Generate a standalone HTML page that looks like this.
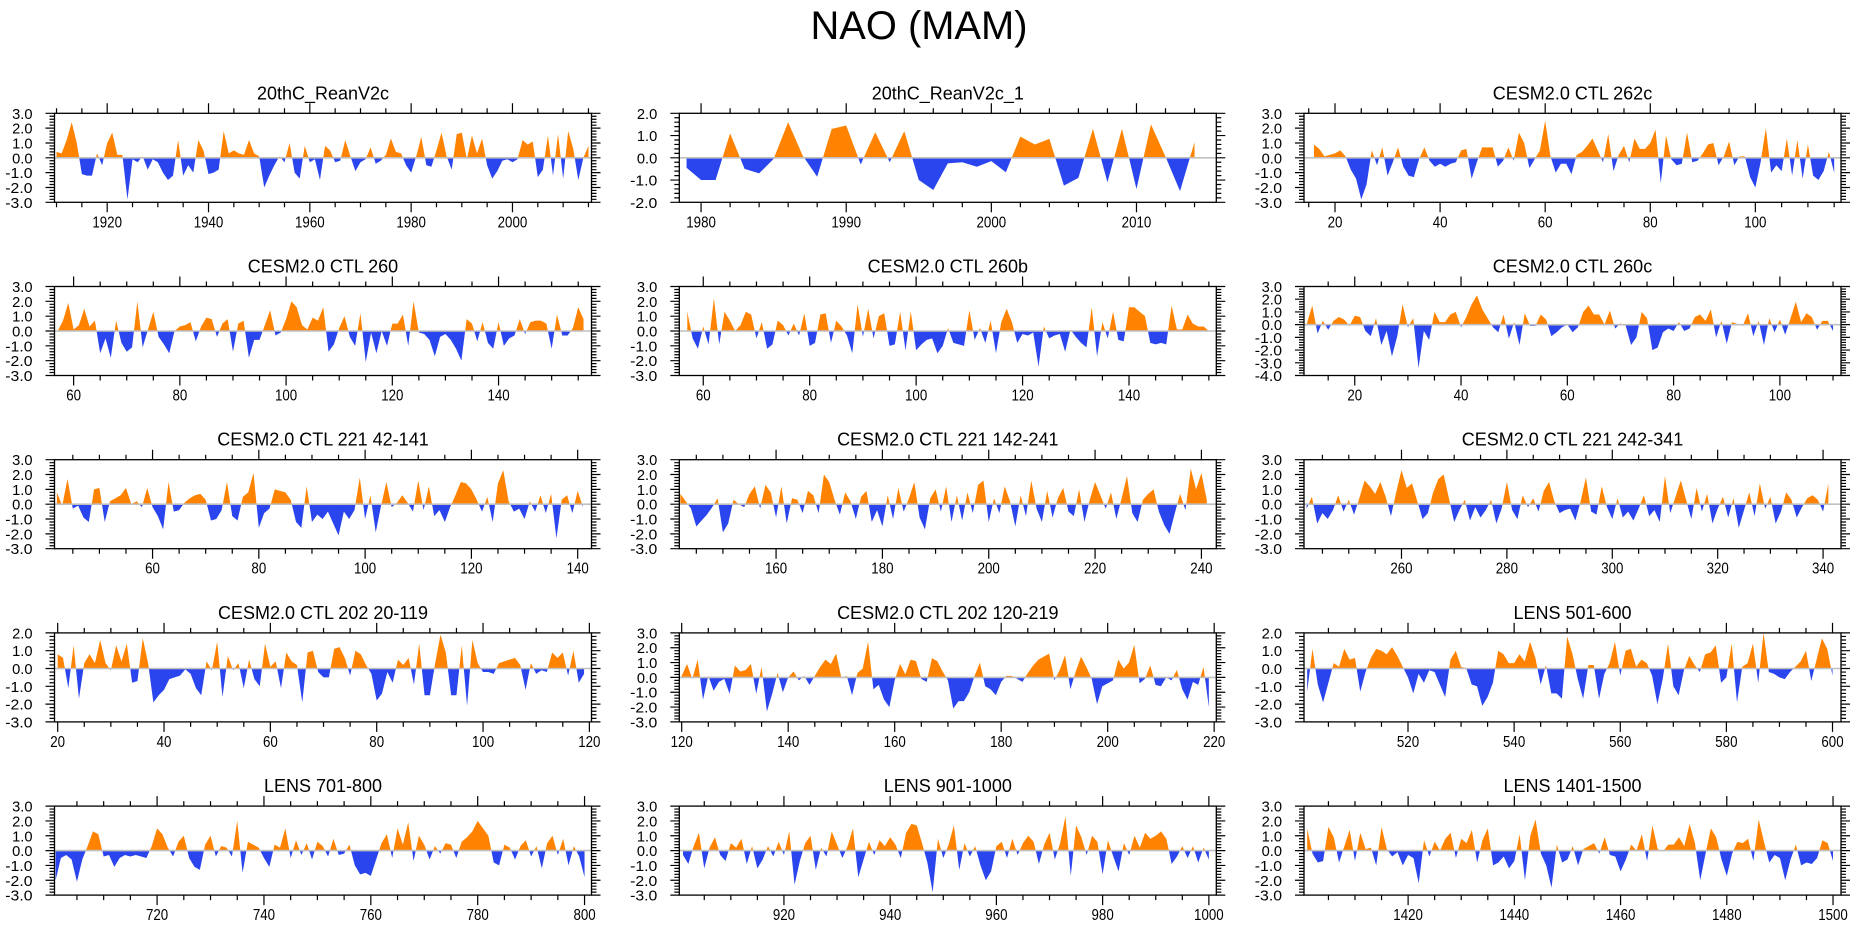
<!DOCTYPE html>
<html><head><meta charset="utf-8"><title>NAO (MAM)</title>
<style>html,body{margin:0;padding:0;background:#fff;}svg{display:block;}</style></head>
<body>
<svg id="chart" xmlns="http://www.w3.org/2000/svg" width="1861" height="936" viewBox="0 0 1861 936">
<rect x="0" y="0" width="1861" height="936" fill="#fff"/>
<text x="919" y="39" text-anchor="middle" font-family="Liberation Sans, sans-serif" font-size="40" textLength="217" lengthAdjust="spacingAndGlyphs">NAO (MAM)</text>
</svg>
<script>
const titles = ["20thC_ReanV2c","20thC_ReanV2c_1","CESM2.0 CTL 262c","CESM2.0 CTL 260","CESM2.0 CTL 260b","CESM2.0 CTL 260c","CESM2.0 CTL 221 42-141","CESM2.0 CTL 221 142-241","CESM2.0 CTL 221 242-341","CESM2.0 CTL 202 20-119","CESM2.0 CTL 202 120-219","LENS 501-600","LENS 701-800","LENS 901-1000","LENS 1401-1500"];
const startYears = [1910,1979,16,57,57,11,42,142,242,20,120,501,701,901,1401];
const xMin = [1909.6,1978.5,14.1,56.4,55.5,10.45,41.55,141.8,241.5,19.4,119.55,500.4,700.8,900.3,1400.4];
const xMax = [2015.6,2015.5,116.3,157.5,156.4,111.5,142.6,242.8,343.4,120.4,220.4,601.6,801.3,1001.4,1501.5];
const yTop = [3,2,3,3,3,3,3,3,3,2,3,2,3,3,3];
const yBot = [-3,-2,-3,-3,-3,-4,-3,-3,-3,-3,-3,-3,-3,-3,-3];
const majorStep = [20,10,20,20,20,20,20,20,20,20,20,20,20,20,20];
const minorStep = [5,2,5,5,5,5,5,5,5,5,5,5,5,5,5];

const s1 = [0.4,0.3,1.2,2.4,1.0,-1.1,-1.2,-1.2,0.3,-0.5,1.0,1.7,0.2,0.2,-2.8,-0.1,-0.3,0.1,-0.8,-0.1,-0.3,-1.0,-1.5,-1.2,1.2,-1.2,-0.5,-1.0,1.2,0.5,-1.1,-1.0,-0.8,1.8,0.3,0.5,0.3,0.2,1.2,0.3,0.1,-2.0,-1.2,-0.5,0.1,-0.3,1.0,-1.0,-1.4,0.8,-0.3,-0.1,-1.5,0.8,0.5,-0.3,-0.2,1.2,0.1,-0.9,-0.3,-0.1,0.7,-0.4,-0.2,0.2,1.3,0.4,0.3,-0.5,-1.0,0.1,1.4,-0.5,-0.6,0.5,1.7,0.1,-0.8,1.6,1.7,-0.1,1.5,0.3,1.3,-0.5,-1.4,-0.9,-0.2,-0.1,-0.3,-0.1,1.2,0.9,1.1,-1.3,-0.8,1.5,-1.2,1.6,-1.4,1.8,0.6,-1.5,0.0,0.8];
const s2 = [-0.45,-1.0,-1.0,1.1,-0.5,-0.7,-0.05,1.6,0.1,-0.85,1.3,1.45,-0.3,1.15,-0.2,1.2,-1.0,-1.45,-0.25,-0.2,-0.4,-0.15,-0.65,0.95,0.6,0.85,-1.25,-0.9,1.3,-1.1,1.3,-1.4,1.5,0.05,-1.5,0.7];
const s3 = [0.9,0.6,0.1,0.2,0.3,0.5,0.1,-0.8,-1.4,-2.8,-1.8,0.5,-0.5,0.7,-1.2,-0.3,0.7,-0.6,-1.2,-1.3,-0.1,0.7,-0.2,-0.6,-0.4,-0.6,-0.4,-0.3,0.5,0.6,-1.4,-0.3,0.7,0.7,0.7,-0.6,-0.2,0.7,-0.2,1.7,1.0,-0.7,-0.1,0.5,2.5,0.1,-1.0,-0.4,-0.4,-1.1,0.2,0.4,0.8,1.3,0.5,-0.3,1.6,-0.9,0.2,0.8,-0.3,1.3,0.6,0.6,1.0,1.9,-1.7,1.5,-0.1,-0.5,-0.4,1.7,-0.3,-0.2,0.3,0.9,1.0,-0.5,0.1,1.1,-0.5,0.1,0.1,-1.3,-2.0,-0.3,2.0,-1.0,-0.5,-0.9,1.3,-1.2,1.2,-1.4,0.9,-1.2,-1.5,-0.9,0.4,-1.0];
const s4 = [0.0,0.7,1.9,0.1,0.4,1.5,0.3,0.7,-1.5,-0.5,-1.8,0.7,-0.8,-1.4,-1.1,2.0,-1.1,0.1,1.3,-0.4,-0.9,-1.5,0.0,0.3,0.4,0.6,-0.7,0.3,0.9,0.8,-0.4,0.5,0.8,-1.4,0.5,0.7,-1.8,-0.6,-0.6,0.4,1.4,-0.3,-0.1,0.8,2.0,1.6,0.4,0.1,0.9,0.7,1.6,-1.4,-0.9,0.2,1.0,-0.4,-1.0,1.2,-2.1,-0.1,-1.5,0.0,-1.0,0.5,0.5,1.1,-1.0,2.0,-0.1,-0.2,-0.6,-1.7,-0.4,-0.2,-0.6,-1.2,-2.0,0.8,0.5,-0.7,0.6,-0.8,-1.2,0.6,-1.0,-0.5,-0.3,0.8,-0.2,0.6,0.7,0.7,0.5,-1.2,1.1,-0.3,-0.3,0.2,1.6,0.8];
const s5 = [1.3,-0.5,-1.2,0.3,-0.9,2.2,-0.9,1.3,0.7,0.0,0.4,1.3,1.1,-0.5,0.6,-1.2,-0.9,0.7,0.4,-0.3,0.5,-0.3,1.2,-1.0,-0.8,1.1,1.2,-0.8,0.7,0.3,-0.3,-1.5,1.8,-0.4,1.5,-0.5,1.0,1.2,-1.0,-0.9,1.3,-1.3,1.3,-1.3,-0.9,-0.6,-0.5,-1.5,-1.0,0.2,-0.8,-0.9,-1.0,1.4,-0.6,0.2,-0.8,0.7,-1.5,0.6,1.5,0.6,-0.8,-0.2,-0.3,-0.1,-2.4,0.3,-0.5,-0.3,-0.2,-1.4,0.1,-0.4,-0.8,-1.1,1.6,-1.7,0.6,-0.5,1.3,-0.6,-0.7,1.6,1.6,1.3,1.0,-0.8,-0.9,-0.8,-0.9,1.7,0.1,0.1,1.1,0.5,0.3,0.3,0.0];
const s6 = [0.1,1.5,-0.7,0.3,-0.4,0.3,0.6,0.4,-0.1,0.7,0.6,-0.5,-0.9,0.5,-1.6,-0.5,-2.5,-0.9,1.6,-0.2,0.5,-3.4,-0.5,-1.2,1.0,0.2,0.2,0.8,1.0,-0.2,0.6,1.6,2.3,1.2,0.5,-0.2,-0.6,0.8,-1.1,0.2,-1.6,0.9,-0.1,-0.1,0.8,0.4,-0.9,-0.6,-0.2,0.0,-0.6,-0.2,1.0,1.5,0.8,0.8,0.0,1.1,-0.3,0.1,-0.1,-1.6,-1.0,1.0,0.5,-2.0,-1.8,-0.6,-0.3,-0.5,0.2,-0.5,-0.3,0.6,0.8,0.3,1.2,-1.0,0.3,-1.5,0.2,0.05,-0.1,0.9,-0.9,0.3,-1.6,0.5,-0.6,0.4,-0.8,0.5,1.8,0.2,0.9,0.6,-0.4,0.3,0.3,-0.5];
const s7 = [0.8,-0.1,1.7,-0.3,-0.1,-0.9,-1.2,1.0,1.1,-1.2,0.2,0.4,0.6,1.1,0.0,0.2,-0.2,1.1,-0.2,-0.8,-1.7,1.5,-0.5,-0.4,0.1,0.4,0.6,0.7,0.3,-1.1,-1.0,-0.4,1.5,-0.8,-1.1,0.5,0.8,2.1,-1.6,-0.6,-0.3,1.0,0.9,0.8,0.3,-1.2,-1.6,1.2,-1.2,-0.7,-1.0,-0.5,-1.3,-2.1,-0.5,-1.0,-0.4,1.8,-1.0,0.6,-1.9,-0.1,1.5,-0.2,0.1,0.6,0.1,-0.5,1.6,-0.4,1.2,-0.8,-0.4,-1.2,-0.2,0.6,1.5,1.4,1.0,0.3,-0.5,0.5,-1.2,1.4,2.3,0.2,-0.5,-0.3,-1.0,0.2,-0.5,0.6,-0.6,0.7,-2.3,0.3,0.6,-0.6,0.9,-0.2];
const s8 = [0.7,0.2,-0.3,-1.5,-1.1,-0.7,-0.2,0.4,-1.9,-1.3,0.3,0.0,-0.2,0.7,1.2,-0.3,1.3,0.8,-0.9,1.2,-1.3,0.4,0.3,-0.6,0.9,0.6,-0.6,2.0,1.5,0.3,-0.7,0.8,0.2,-1.0,0.5,0.9,-1.2,-0.4,-1.5,0.6,-1.0,1.1,-0.5,0.4,1.5,-0.9,-1.7,0.4,1.0,-0.5,1.2,-1.2,0.6,-1.1,0.8,-0.6,1.3,1.6,-1.2,0.4,-0.6,1.2,0.2,-1.5,0.6,-0.8,1.6,-0.3,-1.2,0.9,-0.9,0.4,1.1,-0.5,-0.8,1.0,-1.2,0.3,1.5,0.6,-0.3,0.8,-1.0,0.4,1.9,-0.6,-1.2,0.3,0.7,1.0,-0.5,-1.4,-2.0,-0.6,0.7,-0.4,2.4,1.0,2.1,0.3];
const s9 = [-0.3,0.5,-1.3,-0.6,-1.0,-0.4,0.6,-0.5,0.3,-0.7,0.4,1.6,1.2,0.7,1.5,0.5,-0.8,0.8,2.3,1.1,1.4,0.2,-1.0,-0.6,0.8,1.7,2.0,0.4,-1.2,-0.4,0.3,-1.1,-0.2,-0.9,-0.4,0.3,-1.3,-0.3,1.5,-0.4,-1.0,0.6,-0.2,0.4,-0.5,0.9,1.5,0.2,-0.6,-0.4,-0.3,-1.1,0.2,1.8,-0.5,-0.7,1.2,-0.2,-1.0,0.4,-0.9,-0.5,-1.1,-0.3,0.6,-0.8,-0.4,-1.2,1.9,-0.6,0.5,1.6,0.3,-1.0,1.1,-0.5,0.7,-1.3,-0.3,0.5,-0.9,0.4,-1.6,-0.4,0.8,-0.8,1.4,-0.3,0.5,-1.3,-0.5,0.8,0.3,-0.9,-0.2,0.4,0.6,0.3,-0.5,1.4];
const s10 = [0.8,0.6,-1.1,1.3,-1.7,0.3,0.8,0.3,1.6,0.3,-0.1,1.3,0.4,1.4,-0.8,-0.7,1.7,0.3,-1.9,-1.5,-1.2,-0.6,-0.5,-0.4,-0.05,-0.3,-1.1,-1.5,0.4,-0.1,1.5,-1.6,0.7,-0.1,0.3,-1.1,0.5,-0.6,-1.0,1.4,0.1,0.4,-1.1,0.9,0.4,0.2,-1.9,0.9,1.0,-0.2,-0.5,-0.5,1.1,1.2,0.6,-0.4,1.0,0.8,0.2,-0.3,-1.8,-1.4,-0.2,-0.8,0.5,0.2,0.6,-0.9,1.4,-1.5,-1.5,0.3,1.9,0.9,-1.5,-1.5,1.3,-2.1,1.6,0.3,-0.2,-0.2,-0.3,0.3,0.4,0.5,0.6,0.2,-1.2,0.3,-0.3,-0.1,-0.2,0.9,0.6,0.9,-0.4,1.0,-0.8,-0.3];
const s11 = [0.1,0.9,-0.1,1.2,-1.5,0.1,-0.9,-0.3,-0.1,-1.1,0.8,0.4,0.5,0.9,-1.1,0.7,-2.3,-1.1,0.3,-1.0,0.0,0.4,-0.2,0.1,-0.5,0.1,0.7,1.2,0.9,1.6,-0.05,0.1,-1.2,0.3,0.6,2.4,-0.8,-0.5,-1.5,-2.0,-0.2,0.9,0.2,1.2,1.1,-0.1,-0.3,1.3,1.1,0.4,-0.2,-2.1,-1.6,-1.6,-1.0,0.1,1.0,-0.6,-0.8,-1.2,-0.3,0.1,0.1,-0.1,-0.3,0.3,0.8,1.2,1.4,1.6,-0.2,0.5,1.5,-0.8,0.4,1.4,0.7,-0.1,-1.8,-0.6,-0.4,-0.2,1.2,0.6,1.0,2.2,-0.4,-0.1,0.8,-0.5,-0.6,0.0,-0.2,0.5,-0.8,-1.5,-0.3,-0.5,0.7,-2.0];
const s12 = [-1.3,1.1,-0.9,-1.9,-0.8,0.3,0.1,1.1,0.5,0.6,-1.3,-0.2,0.6,1.1,1.0,0.8,1.2,0.7,0.1,-0.5,-1.4,-0.3,-0.8,-0.1,-0.2,-0.9,-1.6,0.5,1.0,0.1,0.0,-0.9,-1.0,-2.1,-1.6,-0.8,1.0,0.8,0.3,0.3,0.8,0.4,1.5,0.6,-0.9,0.2,-1.4,-1.4,-1.7,1.8,0.8,-0.6,-1.7,0.2,0.2,-1.7,-0.3,0.3,1.5,-0.4,1.0,1.1,0.1,0.5,0.3,-0.4,-2.0,-0.6,1.4,-1.0,-1.5,-0.1,0.7,0.2,-0.2,0.8,0.9,1.3,-0.8,-0.5,1.4,-1.9,0.1,0.3,1.4,-0.8,2.0,-0.2,-0.3,-0.5,-0.6,-0.2,0.1,0.4,1.0,-0.7,0.5,1.7,1.1,-0.4];
const s13 = [-2.0,-0.5,-0.3,-0.6,-2.1,-0.6,0.3,1.3,1.1,-0.4,-0.3,-1.1,-0.5,-0.3,-0.4,-0.3,-0.4,-0.5,0.3,1.5,1.1,0.2,-0.4,0.6,1.0,-0.5,-1.1,-1.3,0.4,1.0,-0.4,0.3,0.2,-0.4,2.0,-1.5,0.6,0.4,0.2,-0.5,-1.1,0.4,0.2,1.5,-0.5,0.7,-0.3,0.5,-0.6,0.6,0.3,-0.4,0.8,-0.3,-0.2,0.4,-1.0,-1.6,-1.5,-1.7,-0.6,0.5,1.1,-0.5,1.5,0.4,1.9,-0.7,1.0,0.4,-0.6,0.3,-0.2,0.5,0.4,-0.5,0.6,0.9,1.3,2.0,1.5,1.0,-0.8,-1.0,0.4,0.2,-0.6,0.3,0.7,-0.4,0.3,-1.2,0.5,1.0,-0.3,0.8,-1.0,0.3,-0.4,-1.8];
const s14 = [-0.3,-0.9,0.3,1.2,-1.2,0.2,0.9,-0.3,-0.7,0.5,0.2,0.8,-0.9,0.3,-1.2,-0.6,0.3,-0.4,0.6,-0.3,1.3,-2.3,-0.7,0.5,1.0,-1.3,0.2,-0.4,1.3,0.4,-0.5,0.3,1.5,-1.8,-0.6,0.6,-0.3,0.7,0.3,0.9,0.4,-0.5,1.2,1.8,1.7,0.5,-0.8,-2.8,0.8,-0.5,0.4,1.7,-1.3,0.5,-0.4,0.3,-1.0,-2.0,-1.4,0.3,0.6,-0.5,0.8,-0.3,0.5,1.0,0.6,-0.9,0.4,1.2,-0.6,0.5,2.3,-1.7,1.7,0.9,-0.3,1.0,0.6,-1.6,0.7,-0.4,-1.4,0.5,-0.3,1.0,0.2,1.2,0.8,1.0,1.3,0.8,-0.9,-0.4,0.3,-0.5,0.3,-0.8,0.2,-0.6];
const s15 = [1.5,-0.2,-0.8,-0.7,1.6,0.9,-0.8,0.3,1.4,-0.7,1.2,0.1,0.2,-1.0,1.6,0.1,-0.4,-0.1,-1.0,-0.3,-0.5,-2.2,0.7,-0.4,0.6,0.0,0.8,1.2,-0.5,0.8,0.5,1.4,-0.8,0.7,1.5,-1.0,-0.8,-0.4,-1.2,-0.7,1.1,-2.0,1.0,2.1,-0.2,-1.0,-2.5,0.4,-0.8,-0.6,0.3,-1.0,0.1,0.3,0.5,-0.2,0.9,-0.3,-0.4,-1.4,-0.6,0.4,0.0,1.1,-0.7,1.7,0.1,-0.05,0.4,0.4,0.9,0.3,1.8,0.5,-2.0,-0.2,1.5,0.9,-0.6,-1.7,-0.2,0.6,0.5,0.8,-0.7,2.1,0.6,-0.8,-0.3,-0.5,-2.0,-0.6,0.4,-1.0,-0.8,-0.9,-0.5,0.7,0.5,-0.7];
const series = [s1,s2,s3,s4,s5,s6,s7,s8,s9,s10,s11,s12,s13,s14,s15];

const NS = "http://www.w3.org/2000/svg";
const svg = document.getElementById('chart');
const colLeft = [54.5, 679.3, 1304];
const panelW = 537, panelH = 89, rowTop0 = 113.3, rowGap = 173.2;
const FONT = "Liberation Sans, sans-serif";
function mk(tag, attrs, parent) {
  const e = document.createElementNS(NS, tag);
  for (const k in attrs) e.setAttribute(k, attrs[k]);
  (parent || svg).appendChild(e);
  return e;
}
function fmt(v){ return v.toFixed(1); }

series.forEach((vals, p) => {
  const col = p % 3, row = Math.floor(p / 3);
  const L = colLeft[col], T = rowTop0 + row * rowGap, W = panelW, H = panelH;
  const g = mk('g', {});
  
  
  const xs = v => L + (v - xMin[p]) / (xMax[p] - xMin[p]) * W;
  const ys = v => T + (yTop[p] - v) / (yTop[p] - yBot[p]) * H;
  const y0 = ys(0);
  const pts = [];
  for (let i = 0; i < vals.length; i++) {
    const x = xs(startYears[p] + i), v = vals[i];
    if (i > 0) {
      const pv = vals[i - 1];
      if ((pv > 0 && v < 0) || (pv < 0 && v > 0)) {
        const t = pv / (pv - v);
        const px = xs(startYears[p] + i - 1);
        pts.push([px + t * (x - px), 0]);
      }
    }
    pts.push([x, v]);
  }
  const first = pts[0][0], last = pts[pts.length - 1][0];
  let pos = 'M' + first + ',' + y0, neg = 'M' + first + ',' + y0;
  pts.forEach(q => {
    pos += ' L' + q[0].toFixed(2) + ',' + ys(Math.max(q[1], 0)).toFixed(2);
    neg += ' L' + q[0].toFixed(2) + ',' + ys(Math.min(q[1], 0)).toFixed(2);
  });
  pos += ' L' + last + ',' + y0 + 'Z';
  neg += ' L' + last + ',' + y0 + 'Z';
  const pp = mk('path', { d: pos, fill: '#ff8300', stroke: 'none' }, g);
  
  
  const np = mk('path', { d: neg, fill: '#2b45ee', stroke: 'none' }, g);
  
  
  const zl = mk('line', { x1: L, x2: L + W, y1: y0, y2: y0, stroke: '#c0c0c0', 'stroke-width': 1.6 }, g);
  
  
  const fr = mk('rect', { x: L, y: T, width: W, height: H, fill: 'none', stroke: '#000', 'stroke-width': 1.3 }, g);
  
  
  let tickD = '';
  const ms = minorStep[p], Ms = majorStep[p];
  for (let v = Math.ceil(xMin[p] / ms) * ms; v <= xMax[p] + 1e-9; v += ms) {
    const x = xs(v).toFixed(2);
    const major = Math.abs(v / Ms - Math.round(v / Ms)) < 1e-9;
    const len = major ? 10 : 5;
    tickD += 'M' + x + ',' + T + ' V' + (T - len) + ' M' + x + ',' + (T + H) + ' V' + (T + H + len) + ' ';
    if (major) {
      const t = mk('text', { x: x, y: T + H + 25, 'text-anchor': 'middle', 'font-family': FONT, 'font-size': 16 }, g);
      
      
      t.setAttribute('textLength', String(String(v).length * 7.4));
      t.setAttribute('lengthAdjust', 'spacingAndGlyphs');
      t.textContent = String(v);
    }
  }
  const nMinor = Math.round((yTop[p] - yBot[p]) / 0.2);
  for (let k = 0; k <= nMinor; k++) {
    const v = yBot[p] + k * 0.2;
    const y = ys(v).toFixed(2);
    const major = k % 5 === 0;
    const len = major ? 9 : 5;
    tickD += 'M' + L + ',' + y + ' H' + (L - len) + ' M' + (L + W) + ',' + y + ' H' + (L + W + len) + ' ';
    if (major) {
      const t = mk('text', { x: L - 22, y: (+y + 5.5).toFixed(1), 'text-anchor': 'end', 'font-family': FONT, 'font-size': 15 }, g);
      
      
      const s = fmt(Math.round(v));
      t.setAttribute('textLength', String(s.length * 6.8));
      t.setAttribute('lengthAdjust', 'spacingAndGlyphs');
      t.textContent = s;
    }
  }
  const tk = mk('path', { d: tickD, stroke: '#000', 'stroke-width': 1.2, fill: 'none' }, g);
  
  
  const tt = mk('text', { x: L + W / 2, y: T - 14, 'text-anchor': 'middle', 'font-family': FONT, 'font-size': 18 }, g);
  
  
  tt.textContent = titles[p];
});
</script>
</body></html>
